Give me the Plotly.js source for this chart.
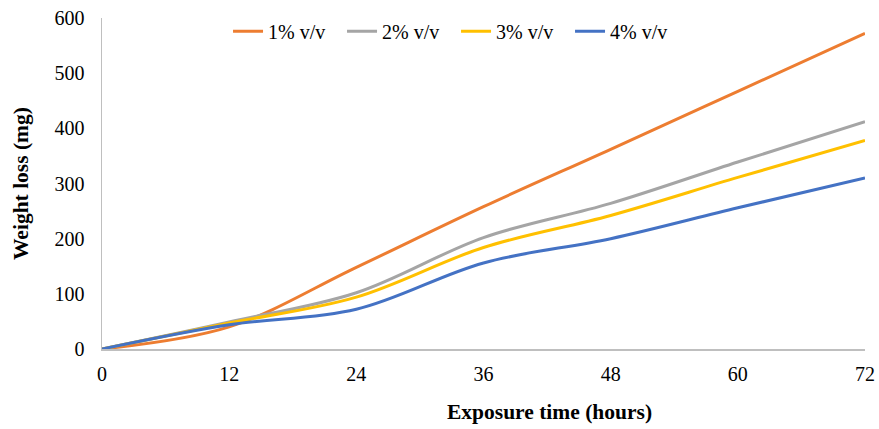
<!DOCTYPE html>
<html><head><meta charset="utf-8">
<script src="https://cdn.plot.ly/plotly-3.0.1.min.js"></script>
<style>html,body{margin:0;padding:0;background:#fff}#chart{width:879px;height:429px}</style>
</head><body><div id="chart"></div>
<script>
const hours = [0, 12, 24, 36, 48, 60, 72];
const seriesNames = ["1% v/v", "2% v/v", "3% v/v", "4% v/v"];
const loss1 = [0, 40, 148, 258, 362, 467, 572];
const loss2 = [0, 49, 102, 202, 264, 339, 412];
const loss3 = [0, 47, 94, 184, 242, 311, 378];
const loss4 = [0, 44, 72, 156, 200, 256, 310];
const xTitle = "Exposure time (hours)";
const yTitle = "Weight loss (mg)";
const colors = ["#ED7D31", "#A5A5A5", "#FFC000", "#4472C4"];
const allLoss = [loss1, loss2, loss3, loss4];
const traces = allLoss.map((ys, i) => ({
  x: hours, y: ys, name: seriesNames[i], type: "scatter", mode: "lines",
  line: {color: colors[i], width: 3, shape: "spline", smoothing: 1}
}));
const font = {family: "Liberation Serif, Times New Roman, serif", color: "#000"};
Plotly.newPlot("chart", traces, {
  width: 879, height: 429,
  margin: {l: 102, r: 14, t: 18, b: 80},
  paper_bgcolor: "#fff", plot_bgcolor: "#fff",
  showlegend: true,
  legend: {orientation: "h", x: 0.464, xanchor: "center", y: 0.96, yanchor: "middle",
    font: Object.assign({size: 20}, font), bgcolor: "rgba(0,0,0,0)",
    entrywidth: 69, entrywidthmode: "pixels", itemwidth: 30, tracegroupgap: 0},
  annotations: [{text: "<b>" + xTitle + "</b>", xref: "paper", yref: "paper", x: 0.587, y: -0.19,
    xanchor: "center", yanchor: "middle", showarrow: false, font: Object.assign({size: 21.5}, font)}],
  xaxis: {range: [0, 72], tickvals: [0, 12, 24, 36, 48, 60, 72], showgrid: false, zeroline: false,
    showline: true, linecolor: "#BFBFBF", linewidth: 1.5, ticks: "", ticklen: 0, ticklabelstandoff: 6,
    tickfont: Object.assign({size: 20}, font)},
  yaxis: {range: [0, 600], dtick: 100, showgrid: false, zeroline: false,
    showline: true, linecolor: "#BFBFBF", linewidth: 1.5, ticks: "", ticklabelstandoff: 12,
    tickfont: Object.assign({size: 20}, font),
    title: {text: "<b>" + yTitle + "</b>", font: Object.assign({size: 21.5}, font), standoff: 20}}
}, {displayModeBar: false, staticPlot: true});
</script></body></html>
